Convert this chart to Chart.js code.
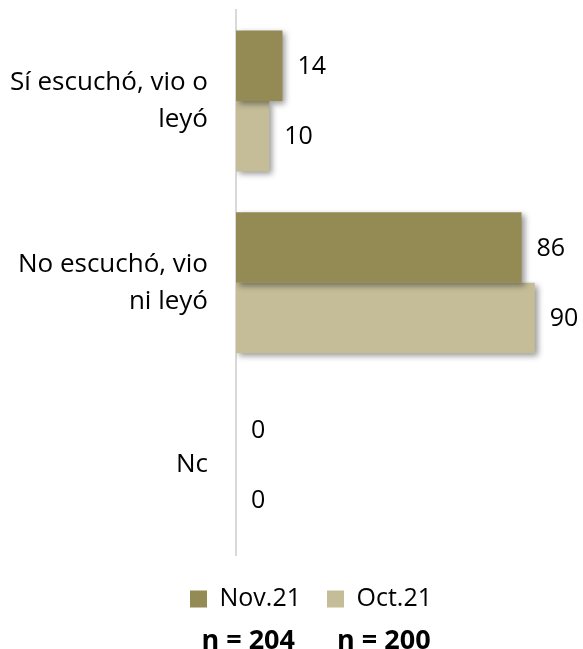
<!DOCTYPE html>
<html>
<head>
<meta charset="utf-8">
<script src="https://cdn.jsdelivr.net/npm/chart.js@4"></script>
<style>
  html, body { margin: 0; padding: 0; background: #fff; }
  #wrap { width: 583px; height: 649px; }
</style>
</head>
<body>
<div id="wrap"><canvas id="chart" width="583" height="649"></canvas></div>
<script>
var categories = [['Sí escuchó, vio o', 'leyó'], ['No escuchó, vio', 'ni leyó'], 'Nc'];
var seriesNames = ['Nov.21', 'Oct.21'];
var nov21 = [14, 86, 0];
var oct21 = [10, 90, 0];
var sampleSizes = ['n = 204', 'n = 200'];

var COLORS = ['#948a54', '#c4bd97'];
var FONT = '"Open Sans", Lato, sans-serif';

// soft drop shadow under each bar
var barShadow = {
  id: 'barShadow',
  beforeDatasetDraw: function(chart) {
    var ctx = chart.ctx;
    ctx.save();
    ctx.shadowColor = 'rgba(0,0,0,0.4)';
    ctx.shadowBlur = 6;
    ctx.shadowOffsetX = 3;
    ctx.shadowOffsetY = 3;
  },
  afterDatasetDraw: function(chart) {
    chart.ctx.restore();
  }
};

// value next to the end of every bar
var valueLabels = {
  id: 'valueLabels',
  afterDatasetsDraw: function(chart) {
    var ctx = chart.ctx;
    ctx.save();
    ctx.font = '25px ' + FONT;
    ctx.fillStyle = '#000';
    ctx.textAlign = 'left';
    ctx.textBaseline = 'middle';
    chart.data.datasets.forEach(function(ds, i) {
      chart.getDatasetMeta(i).data.forEach(function(bar, j) {
        ctx.fillText(String(ds.data[j]), bar.x + 15, bar.y + 1);
      });
    });
    ctx.restore();
  }
};

// place the legend row and the sample sizes under the bars
function moveBox(box, dx, midY) {
  if (!box) return;
  var dy = midY - (box.top + box.bottom) / 2;
  box.left += dx; box.right += dx;
  box.top += dy; box.bottom += dy;
}
var shiftFooter = {
  id: 'shiftFooter',
  afterLayout: function(chart) {
    moveBox(chart.legend, 27, 591);
    moveBox(chart.titleBlock, 32, 641);
  }
};

new Chart(document.getElementById('chart'), {
  type: 'bar',
  data: {
    labels: categories,
    datasets: [
      { label: seriesNames[0], data: nov21, backgroundColor: COLORS[0] },
      { label: seriesNames[1], data: oct21, backgroundColor: COLORS[1] }
    ]
  },
  options: {
    indexAxis: 'y',
    responsive: false,
    animation: false,
    events: [],
    datasets: {
      bar: { categoryPercentage: 0.775, barPercentage: 1.0, borderWidth: 0 }
    },
    layout: { padding: { left: 0, right: 15, top: 10, bottom: 0 } },
    scales: {
      x: {
        display: false,
        min: 0,
        max: 100
      },
      y: {
        grid: { display: false, drawTicks: false },
        border: { display: true, color: '#d9d9d9', width: 2 },
        ticks: {
          color: '#000',
          padding: 28,
          font: { family: FONT, size: 26, lineHeight: 1.42 }
        },
        afterFit: function(scale) {
          scale.width = 236;
          scale.paddingTop = 0;
          scale.paddingBottom = 0;
        }
      }
    },
    plugins: {
      legend: {
        position: 'bottom',
        labels: {
          color: '#000',
          boxWidth: 17,
          boxHeight: 17,
          padding: 26,
          font: { family: FONT, size: 25 }
        }
      },
      title: {
        display: true,
        position: 'bottom',
        text: sampleSizes.join('      '),
        color: '#000',
        font: { family: FONT, size: 27, weight: 'bold', lineHeight: 1.2 },
        padding: { top: 0, bottom: 0 }
      },
      tooltip: { enabled: false }
    }
  },
  plugins: [barShadow, valueLabels, shiftFooter]
});
</script>
</body>
</html>
